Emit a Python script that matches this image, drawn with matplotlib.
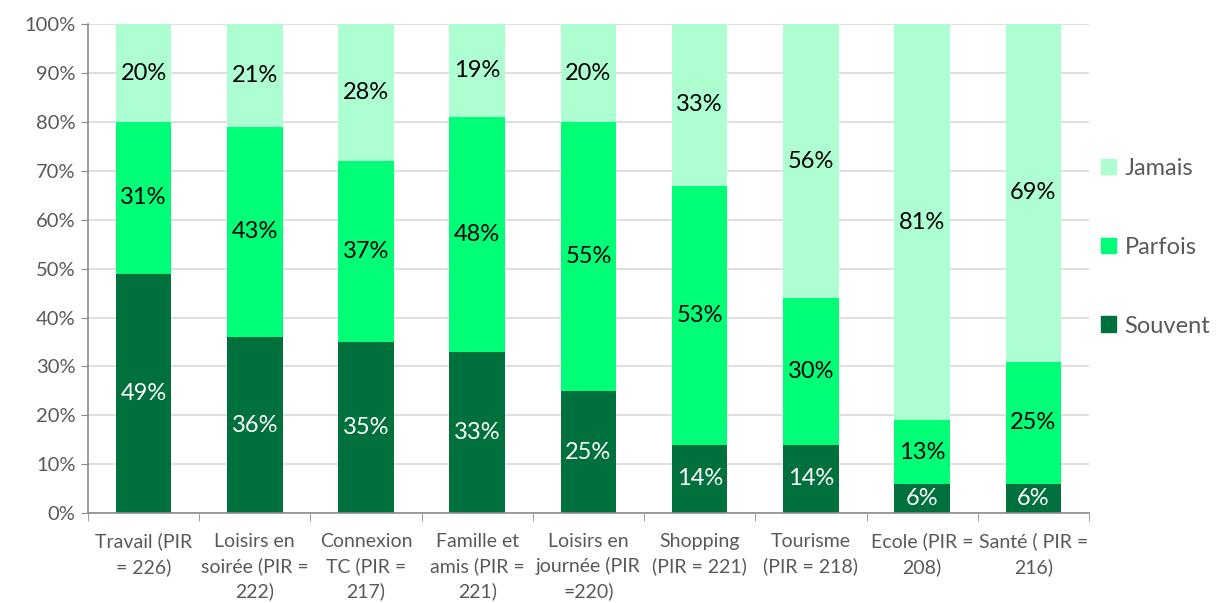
import numpy as np
import matplotlib.pyplot as plt
from matplotlib.patches import Patch

plt.rcParams['font.family'] = ['Lato', 'DejaVu Sans']

categories = [
    'Travail (PIR\n= 226)',
    'Loisirs en\nsoirée (PIR =\n222)',
    'Connexion\nTC (PIR =\n217)',
    'Famille et\namis (PIR =\n221)',
    'Loisirs en\njournée (PIR\n=220)',
    'Shopping\n(PIR = 221)',
    'Tourisme\n(PIR = 218)',
    'Ecole (PIR =\n208)',
    'Santé ( PIR =\n216)',
]
souvent = [49, 36, 35, 33, 25, 14, 14, 6, 6]
parfois = [31, 43, 37, 48, 55, 53, 30, 13, 25]
jamais = [20, 21, 28, 19, 20, 33, 56, 81, 69]

series = [
    ('Souvent', souvent, '#00703c', 'white'),
    ('Parfois', parfois, '#00ff77', 'black'),
    ('Jamais', jamais, '#adffd2', 'black'),
]

grey = '#595959'
fig = plt.figure(figsize=(12.27, 6.03), dpi=100)
ax = fig.add_axes([0.0717, 0.149, 0.8158, 0.811])

x = np.arange(len(categories))
bottom = np.zeros(len(categories))
for name, vals, color, tcolor in series:
    vals = np.array(vals, dtype=float)
    ax.bar(x, vals, 0.5, bottom=bottom, color=color, zorder=2)
    for xi, b, v in zip(x, bottom, vals):
        ax.text(xi, b + v / 2, f'{v:.0f}%', ha='center', va='center',
                fontsize=17, color=tcolor, zorder=3)
    bottom += vals

ax.set_xlim(-0.5, len(categories) - 0.5)
ax.set_ylim(0, 100)
ax.set_yticks(np.arange(0, 101, 10))
ax.set_yticklabels([f'{t}%' for t in range(0, 101, 10)], fontsize=14.5, color=grey)
ax.yaxis.grid(True, color='#d9d9d9', linewidth=1.2, zorder=0)
ax.tick_params(axis='y', length=5, color='#8c8c8c', pad=4)

ax.set_xticks(x)
ax.set_xticklabels(categories, fontsize=14, color=grey, linespacing=1.5)
ax.tick_params(axis='x', which='major', length=0, pad=14)
ax.set_xticks(np.arange(-0.5, len(categories)), minor=True)
ax.tick_params(axis='x', which='minor', length=6, color='#8c8c8c')

for s in ['top', 'right']:
    ax.spines[s].set_visible(False)
for s in ['left', 'bottom']:
    ax.spines[s].set_color('#8c8c8c')
    ax.spines[s].set_linewidth(1.2)

handles = [Patch(color=c, label=n) for n, _, c, _ in reversed(series)]
leg = fig.legend(handles=handles, loc='center left', bbox_to_anchor=(0.88, 0.59),
                 frameon=False, fontsize=17, labelcolor=grey, handlelength=0.65,
                 handleheight=0.65, handletextpad=0.35, labelspacing=2.45)

fig.savefig('out.png', dpi=100)
